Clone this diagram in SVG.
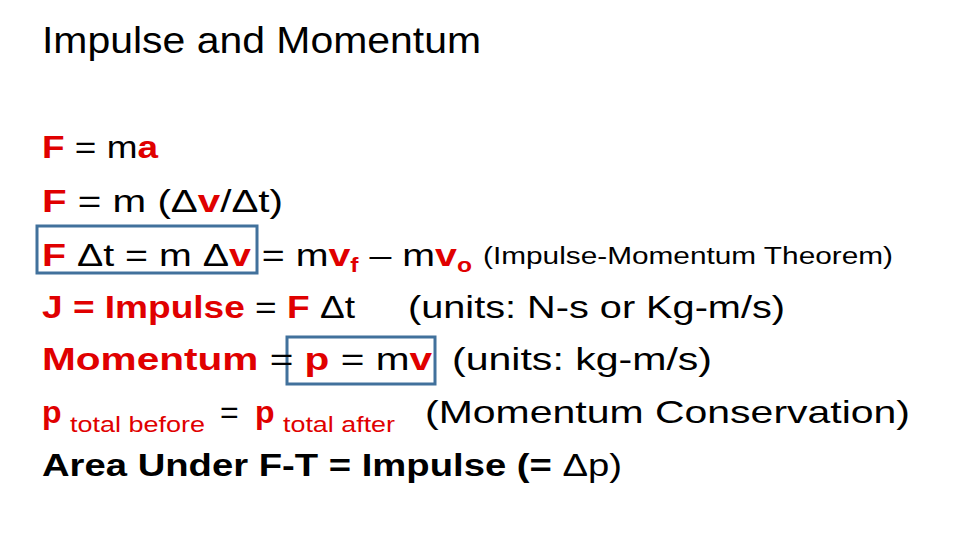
<svg xmlns="http://www.w3.org/2000/svg" width="960" height="540" viewBox="0 0 960 540">
<style>
text{font-family:"Liberation Sans","Open Sans",sans-serif;font-size:32px;fill:#000}
.r{fill:#e00000;font-weight:bold}
.b{font-weight:bold}
.s{font-size:22px;fill:#e00000}
.box{fill:none;stroke:#41719c;stroke-width:3}
</style>
<rect width="960" height="540" fill="#fff"/>
<g id="title"><text x="42" y="53" style="font-size:36px" textLength="439" lengthAdjust="spacingAndGlyphs">Impulse and Momentum</text></g>
<g id="line1"><text x="42" y="158" textLength="116" lengthAdjust="spacingAndGlyphs"><tspan class="r">F</tspan> = m<tspan class="r">a</tspan></text></g>
<g id="line2"><text x="42" y="212" textLength="241" lengthAdjust="spacingAndGlyphs"><tspan class="r">F</tspan> = m (Δ<tspan class="r">v</tspan>/Δt)</text></g>
<g id="line3">
<rect class="box" x="37" y="226" width="220" height="47"/>
<text x="42" y="266" textLength="430" lengthAdjust="spacingAndGlyphs"><tspan class="r">F</tspan> Δt = m Δ<tspan class="r">v</tspan> = m<tspan class="r">v</tspan><tspan class="r" style="font-size:20px" dy="6">f</tspan><tspan dy="-6"> – m</tspan><tspan class="r">v</tspan><tspan class="r" style="font-size:20px" dy="6">o</tspan></text>
<text x="483" y="264" style="font-size:23px" textLength="410" lengthAdjust="spacingAndGlyphs">(Impulse-Momentum Theorem)</text>
</g>
<g id="line4">
<text x="42" y="318" textLength="313" lengthAdjust="spacingAndGlyphs"><tspan class="r">J = Impulse</tspan> = <tspan class="r">F</tspan> Δt</text>
<text x="408" y="318" textLength="377" lengthAdjust="spacingAndGlyphs">(units: N-s or Kg-m/s)</text>
</g>
<g id="line5">
<rect class="box" x="287" y="337" width="148" height="47"/>
<text x="42" y="370" textLength="390" lengthAdjust="spacingAndGlyphs"><tspan class="r">Momentum</tspan> = <tspan class="r">p</tspan> = m<tspan class="r">v</tspan></text>
<text x="452" y="370" textLength="260" lengthAdjust="spacingAndGlyphs">(units: kg-m/s)</text>
</g>
<g id="line6">
<text x="42" y="423" class="r">p</text>
<text x="70" y="432" class="s" textLength="135" lengthAdjust="spacingAndGlyphs">total before</text>
<text x="220" y="423">=</text>
<text x="255" y="423" class="r">p</text>
<text x="283" y="432" class="s" textLength="112" lengthAdjust="spacingAndGlyphs">total after</text>
<text x="425" y="423" textLength="485" lengthAdjust="spacingAndGlyphs">(Momentum Conservation)</text>
</g>
<g id="line7"><text x="42" y="476" textLength="580" lengthAdjust="spacingAndGlyphs"><tspan class="b">Area Under F-T = Impulse (=</tspan> Δp)</text></g>
<g id="connectors"/>
</svg>
